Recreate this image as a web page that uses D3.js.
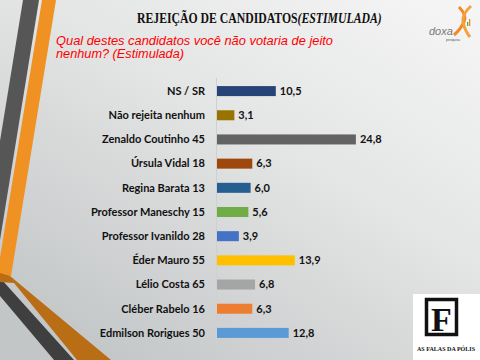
<!DOCTYPE html>
<html><head><meta charset="utf-8">
<script src="https://cdn.jsdelivr.net/npm/d3@7"></script>
<style>html,body{margin:0;padding:0;overflow:hidden;background:#fff}</style>
</head><body><svg id="c" width="480" height="360"></svg>
<script>
const categories = ["NS / SR","Não rejeita nenhum","Zenaldo Coutinho 45","Úrsula Vidal 18","Regina Barata 13","Professor Maneschy 15","Professor Ivanildo 28","Éder Mauro 55","Lélio Costa 65","Cléber Rabelo 16","Edmilson Rorigues 50"];
const values = [10.5,3.1,24.8,6.3,6.0,5.6,3.9,13.9,6.8,6.3,12.8];
const valueLabels = ["10,5","3,1","24,8","6,3","6,0","5,6","3,9","13,9","6,8","6,3","12,8"];
const colors = ["#264478","#997300","#636363","#9e480e","#255e91","#70ad47","#4472c4","#ffc000","#a5a5a5","#ed7d31","#5b9bd5"];

const svg = d3.select("#c");
const defs = svg.append("defs");
const g = defs.append("linearGradient").attr("id","bg").attr("x1","1").attr("y1","0").attr("x2","0.2").attr("y2","1");
g.append("stop").attr("offset","0").attr("stop-color","#f6f6f6");
g.append("stop").attr("offset","0.45").attr("stop-color","#e4e5e5");
g.append("stop").attr("offset","1").attr("stop-color","#c3c6c7");
svg.append("rect").attr("width",480).attr("height",360).attr("fill","url(#bg)");

// decorative stripes
const deco = svg.append("g");
deco.append("polygon").attr("points","23,0 39,0 0,240 0,141").attr("fill","#565656");
deco.append("polygon").attr("points","42,0 56,0 11,276 -3,276").attr("fill","#ef9223");
deco.append("polygon").attr("points","0,280 2,280 74,360 54,360 0,296").attr("fill","#3f3f3f");
deco.append("polygon").attr("points","0,273 10,276 111,360 77,360 14,283 0,282").attr("fill","#b96d14");

// title (single text, horizontally condensed to the reference width)
const tg = svg.append("g");
const title = tg.append("text").attr("x",0).attr("y",0)
  .attr("font-family","Liberation Serif, serif").attr("font-weight","bold").attr("font-size",14)
  .attr("fill","#111");
title.append("tspan").text("REJEIÇÃO DE CANDIDATOS");
title.append("tspan").attr("font-style","italic").text("(ESTIMULADA)");
const tlen = title.node().getComputedTextLength();
tg.attr("transform",`translate(137,23) scale(${245/tlen},1)`);

svg.append("text").attr("x",56).attr("y",45).attr("font-family","Liberation Sans, Arial, sans-serif")
  .attr("font-style","italic").attr("font-size",12.5).attr("fill","#ff0000")
  .attr("textLength",277).attr("lengthAdjust","spacingAndGlyphs")
  .text("Qual destes candidatos você não votaria de jeito");
svg.append("text").attr("x",56).attr("y",58).attr("font-family","Liberation Sans, Arial, sans-serif")
  .attr("font-style","italic").attr("font-size",12.5).attr("fill","#ff0000")
  .attr("textLength",128).attr("lengthAdjust","spacingAndGlyphs")
  .text("nenhum? (Estimulada)");

// chart
const x = d3.scaleLinear().domain([0,25]).range([217,357]);
const y = d3.scaleBand().domain(categories).range([79,345]).paddingInner(0.586).paddingOuter(0.293);

svg.append("line").attr("x1",216.5).attr("x2",216.5).attr("y1",78).attr("y2",343)
  .attr("stroke","#d0d0d0").attr("stroke-width",1);

svg.append("g").selectAll("rect").data(categories).join("rect")
  .attr("x",x(0)).attr("y",d=>y(d)).attr("height",y.bandwidth())
  .attr("width",(d,i)=>x(values[i])-x(0)).attr("fill",(d,i)=>colors[i]);

const font = "Lato, 'Open Sans', sans-serif";
svg.append("g").selectAll("text").data(categories).join("text")
  .attr("x",205).attr("y",d=>y(d)+y.bandwidth()/2).attr("dy","0.35em")
  .attr("text-anchor","end").attr("font-family",font).attr("font-weight","bold")
  .attr("font-size",11).attr("fill","#111").text(d=>d);

svg.append("g").selectAll("text").data(categories).join("text")
  .attr("x",(d,i)=>x(values[i])+4).attr("y",d=>y(d)+y.bandwidth()/2).attr("dy","0.35em")
  .attr("font-family",font).attr("font-weight","bold")
  .attr("font-size",11).attr("fill","#111").text((d,i)=>valueLabels[i]);

// doxa logo
const logo = svg.append("g");
logo.append("path").attr("d","M459,7 Q467,15 464,22 Q460,30 454,35").attr("fill","none").attr("stroke","#f08a24").attr("stroke-width",3);
logo.append("path").attr("d","M471,6 Q462,14 463,22 Q465,31 470,37").attr("fill","none").attr("stroke","#f5a03a").attr("stroke-width",3);
logo.append("rect").attr("x",467).attr("y",22).attr("width",1.3).attr("height",4).attr("fill","#4caf50");
logo.append("rect").attr("x",469).attr("y",19).attr("width",1.3).attr("height",7).attr("fill","#f08a24");
logo.append("text").attr("x",429).attr("y",35).attr("font-family","Liberation Sans, sans-serif").attr("font-style","italic")
  .attr("font-size",11).attr("fill","#777").text("doxa");
logo.append("text").attr("x",446).attr("y",41).attr("font-family","Liberation Sans, sans-serif")
  .attr("font-size",3.5).attr("fill","#555").text("pesquisa");

// F logo
const fl = svg.append("g");
fl.append("rect").attr("x",413).attr("y",294).attr("width",67).attr("height",66).attr("fill","#ffffff");
fl.append("rect").attr("x",426.5).attr("y",299.5).attr("width",30).attr("height",35).attr("fill","none").attr("stroke","#111").attr("stroke-width",3.5);
fl.append("text").attr("x",441.5).attr("y",331).attr("text-anchor","middle").attr("font-family","Liberation Serif, serif")
  .attr("font-weight","bold").attr("font-size",34).attr("fill","#111").text("F");
fl.append("text").attr("x",446).attr("y",351).attr("text-anchor","middle").attr("font-family","Liberation Serif, serif")
  .attr("font-weight","bold").attr("font-size",6.5).attr("fill","#111").attr("textLength",58).attr("lengthAdjust","spacingAndGlyphs").text("AS FALAS DA PÓLIS");
</script></body></html>
